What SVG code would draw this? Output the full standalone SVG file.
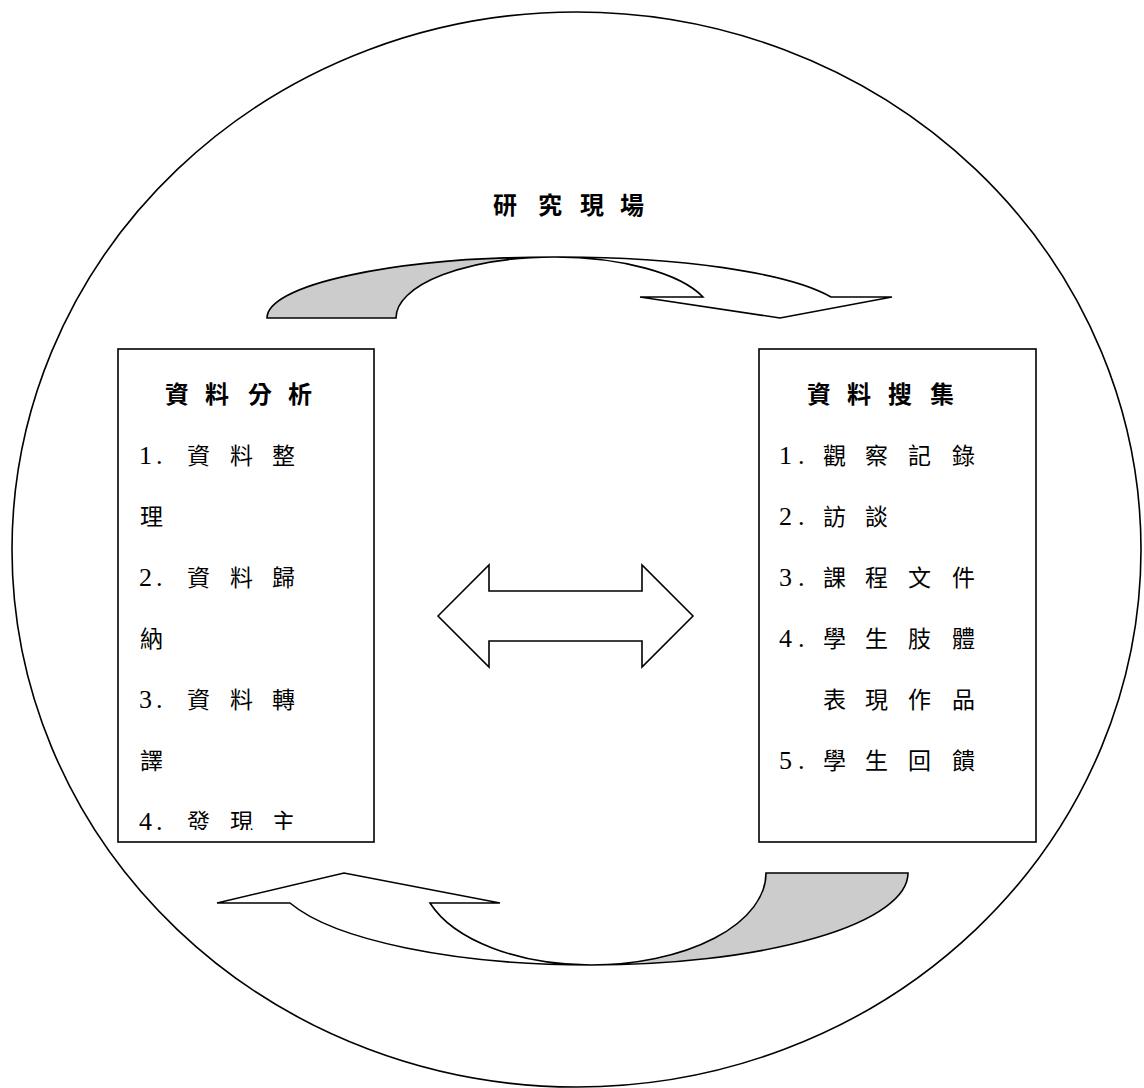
<svg xmlns="http://www.w3.org/2000/svg" width="1144" height="1088" viewBox="0 0 1144 1088">
<style>
.ln{fill:none;stroke:#000;stroke-width:1.6}
.box{fill:#fff;stroke:#000;stroke-width:1.6}
.gray{fill:#cccccc;stroke:#000;stroke-width:1.6;stroke-linejoin:miter}
.white{fill:#fff;stroke:#000;stroke-width:1.6;stroke-linejoin:miter}
.t{font-family:"Liberation Serif","Noto Sans CJK TC",serif;font-size:23px;fill:#000}
.d{font-size:26px}
.h{font-family:"Liberation Serif","Noto Sans CJK TC",serif;font-size:24px;font-weight:bold;fill:#000}
</style>
<defs>
<clipPath id="clipL"><rect x="118" y="349" width="256" height="481"/></clipPath>
</defs>
<rect width="1144" height="1088" fill="#fff"/>
<g id="field">
<ellipse class="ln" cx="576.5" cy="549.5" rx="564.5" ry="537.5"/>
<text class="h" x="493 538 580 620" y="214">研究現場</text>
</g>
<g id="analysis">
<rect class="box" x="118" y="349" width="256" height="493"/>
<text class="h" x="165 205 248 288" y="403">資料分析</text>
<text class="t" y="464"><tspan class="d" x="139 156">1.</tspan><tspan x="187 230 272">資料整</tspan></text>
<text class="t" x="140" y="525">理</text>
<text class="t" y="586"><tspan class="d" x="139 156">2.</tspan><tspan x="187 230 272">資料歸</tspan></text>
<text class="t" x="140" y="647">納</text>
<text class="t" y="708"><tspan class="d" x="139 156">3.</tspan><tspan x="187 230 272">資料轉</tspan></text>
<text class="t" x="140" y="769">譯</text>
<text class="t" y="830" clip-path="url(#clipL)"><tspan class="d" x="139 156">4.</tspan><tspan x="187 230 272">發現主</tspan></text>
</g>
<g id="collection">
<rect class="box" x="759" y="349" width="277" height="493"/>
<text class="h" x="807 847 888 930" y="403">資料搜集</text>
<text class="t" y="464"><tspan class="d" x="779 798">1.</tspan><tspan x="823 865 908 952">觀察記錄</tspan></text>
<text class="t" y="525"><tspan class="d" x="779 798">2.</tspan><tspan x="823 865">訪談</tspan></text>
<text class="t" y="586"><tspan class="d" x="779 798">3.</tspan><tspan x="823 865 908 952">課程文件</tspan></text>
<text class="t" y="647"><tspan class="d" x="779 798">4.</tspan><tspan x="823 865 908 952">學生肢體</tspan></text>
<text class="t" x="823 865 908 952" y="708">表現作品</text>
<text class="t" y="769"><tspan class="d" x="779 798">5.</tspan><tspan x="823 865 908 952">學生回饋</tspan></text>
</g>
<g id="connectors">
<path class="gray" d="M267 318 A288 61 0 0 1 555 257 A159 61 0 0 0 396 318 Z"/>
<path class="white" d="M555 257 A288 61 0 0 1 831 297 L892 297 L780 318 L640 297 L703 297 A159 61 0 0 0 555 257 Z"/>
<path class="gray" d="M908 873 A317 92 0 0 1 591 965 A175 92 0 0 0 766 873 Z"/>
<path class="white" d="M591 965 A318 92 0 0 1 290 903 L217 903 L344 873 L500 903 L430 903 A170 92 0 0 0 591 965 Z"/>
<path class="white" d="M438 616 L489 565 L489 591 L642 591 L642 565 L693 616 L642 667 L642 641 L489 641 L489 667 Z"/>
</g>
</svg>
